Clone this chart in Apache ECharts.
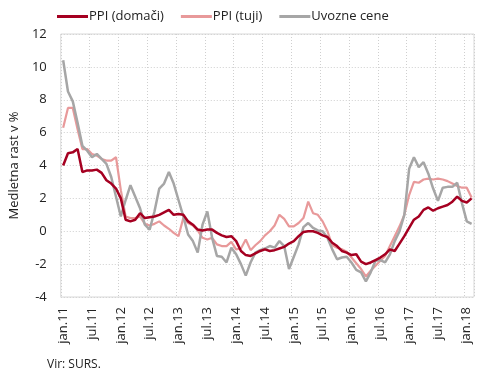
<!DOCTYPE html>
<html><head><meta charset="utf-8">
<script src="https://cdn.jsdelivr.net/npm/echarts@6/dist/echarts.min.js"></script>
<style>html,body{margin:0;padding:0;background:#fff}#c{width:490px;height:380px}</style>
</head><body><div id="c"></div>
<script>
const monthNames = ["jan","feb","mar","apr","maj","jun","jul","avg","sep","okt","nov","dec"];
const years = ["11","12","13","14","15","16","17","18"];
const lastMonthCount = 2; // data run to feb.18
const categories = [];
years.forEach((y, yi) => {
  const n = yi === years.length - 1 ? lastMonthCount : 12;
  for (let m = 0; m < n; m++) categories.push(monthNames[m] + "." + y);
});
const seriesNames = ["PPI (domači)", "PPI (tuji)", "Uvozne cene"];
const ppiDomaci = [
  4.0,4.75,4.8,5.0,3.6,3.7,3.7,3.75,3.55,3.1,2.9,2.6,
  2.0,0.7,0.6,0.7,1.1,0.8,0.85,0.9,1.0,1.15,1.3,1.0,
  1.05,1.0,0.6,0.4,0.1,0.05,0.1,0.1,-0.1,-0.25,-0.35,-0.3,
  -0.6,-1.2,-1.45,-1.5,-1.35,-1.2,-1.1,-1.2,-1.15,-1.05,-0.95,-0.75,
  -0.6,-0.3,-0.05,0.0,0.0,-0.1,-0.25,-0.35,-0.7,-0.9,-1.2,-1.3,
  -1.45,-1.4,-1.85,-2.0,-1.9,-1.75,-1.6,-1.4,-1.1,-1.2,-0.75,-0.3,
  0.2,0.7,0.9,1.3,1.45,1.25,1.4,1.5,1.6,1.8,2.1,1.85,
  1.75,2.0
];
const ppiTuji = [
  6.3,7.5,7.5,6.2,5.0,5.0,4.7,4.6,4.4,4.3,4.3,4.5,
  2.5,0.9,0.8,0.8,0.9,0.45,0.35,0.45,0.6,0.35,0.15,-0.1,
  -0.3,0.8,0.5,0.35,0.05,-0.4,-0.5,-0.4,-0.8,-0.9,-0.9,-0.65,
  -1.1,-1.05,-0.5,-1.15,-0.85,-0.6,-0.25,0.0,0.35,1.0,0.75,0.3,
  0.3,0.5,0.8,1.8,1.1,1.0,0.6,0.0,-0.85,-1.0,-1.1,-1.25,
  -1.6,-1.95,-2.3,-2.75,-2.4,-2.1,-1.8,-1.5,-0.9,-0.3,0.3,1.0,
  2.2,3.0,2.95,3.15,3.2,3.15,3.2,3.15,3.05,2.9,2.75,2.65,
  2.65,2.05
];
const uvozneCene = [
  10.4,8.5,7.9,6.6,5.2,4.9,4.5,4.7,4.4,4.1,3.3,2.1,
  0.9,1.9,2.8,2.1,1.4,0.4,0.1,1.2,2.6,2.9,3.6,2.9,
  1.9,0.9,-0.2,-0.6,-1.3,0.4,1.2,-0.4,-1.5,-1.55,-1.9,-1.0,
  -1.4,-2.0,-2.7,-1.9,-1.3,-1.15,-1.05,-0.9,-1.0,-0.6,-0.9,-2.3,
  -1.55,-0.8,0.25,0.5,0.2,0.05,0.0,-0.4,-1.1,-1.7,-1.6,-1.55,
  -1.9,-2.35,-2.5,-3.05,-2.5,-1.8,-1.75,-1.9,-1.4,-0.6,0.0,1.0,
  3.8,4.5,3.9,4.2,3.5,2.6,1.85,2.65,2.7,2.7,2.95,1.7,
  0.6,0.45
];
const colors = ["#A50021", "#E8999A", "#A6A6A6"];
const font = "'Open Sans', sans-serif";

const chart = echarts.init(document.getElementById('c'), null, {renderer: 'canvas'});
chart.setOption({
  animation: false,
  color: colors,
  grid: {left: 54, right: 16, top: 34, bottom: 83, show: true, borderColor: '#d9d9d9', borderWidth: 1},
  legend: {
    top: 5, left: 52, itemWidth: 31, itemHeight: 3, itemGap: 17,
    icon: 'rect',
    textStyle: {fontFamily: font, fontSize: 13, color: '#222', padding: [0,0,0,-4]},
    data: seriesNames
  },
  graphic: [{type: 'text', left: 47, top: 359, style: {text: 'Vir: SURS.', fontFamily: font, fontSize: 12, fill: '#222'}}],
  xAxis: {
    type: 'category', data: categories, boundaryGap: true,
    axisLine: {show: false}, axisTick: {show: false},
    axisLabel: {interval: 5, rotate: 90, fontFamily: font, fontSize: 13, color: '#222', margin: 10},
    splitLine: {show: true, interval: 5, lineStyle: {color: '#cfcfcf', type: [1, 2], width: 1}}
  },
  yAxis: {
    type: 'value', min: -4, max: 12, interval: 2,
    name: 'Medletna rast v %', nameLocation: 'middle', nameGap: 37,
    nameTextStyle: {fontFamily: font, fontSize: 13, color: '#222'},
    axisLine: {show: false}, axisTick: {show: false},
    axisLabel: {fontFamily: font, fontSize: 13, color: '#222', margin: 14},
    splitLine: {lineStyle: {color: '#cfcfcf', type: [1, 2], width: 1}}
  },
  series: [
    {name: seriesNames[0], type: 'line', data: ppiDomaci, symbol: 'none', lineStyle: {width: 2.5}, z: 5},
    {name: seriesNames[1], type: 'line', data: ppiTuji, symbol: 'none', lineStyle: {width: 2.2}, z: 3},
    {name: seriesNames[2], type: 'line', data: uvozneCene, symbol: 'none', lineStyle: {width: 2.5}, z: 4}
  ]
});
</script></body></html>
